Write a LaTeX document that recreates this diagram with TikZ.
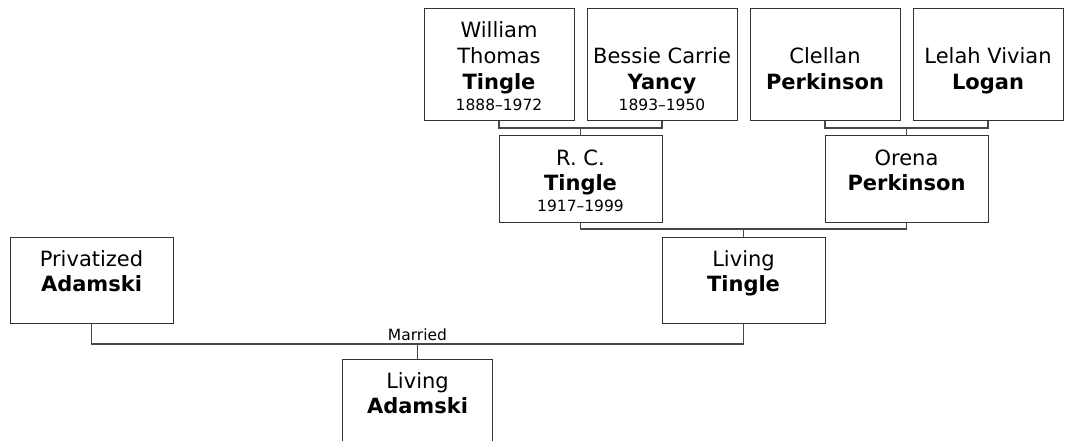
\documentclass[tikz,border=0pt]{standalone}
\usepackage{fontspec}
\setmainfont{DejaVu Sans}
\usetikzlibrary{positioning,calc}

% width, height, first baseline, given names, surname, years
\newcommand{\person}[6]{%
  \parbox[c][#2][t]{#1}{\centering
    \fontsize{21}{25.6}\selectfont
    \rule{0pt}{#3}#4\\
    \textbf{#5}\par
    \fontsize{15.5}{21}\selectfont #6\par}}

\begin{document}
\begin{tikzpicture}[
    x=1pt, y=-1pt,
    card/.style={draw=black!80, line width=1pt, inner sep=0pt, outer sep=0pt, fill=white},
    link/.style={draw=black!72, line width=1.4pt},
    tag/.style={font=\fontsize{15.5}{18}\selectfont, inner sep=0pt}
]
    \useasboundingbox (0,0) rectangle (1066,441);
    \clip (0,0) rectangle (1066,441);

    % Grandparents
    \node[card, anchor=north west] (wt) at (424,9)
        {\person{150pt}{112pt}{29pt}{William\\Thomas}{Tingle}{1888--1972}};
    \node[card, right=13pt of wt] (by)
        {\person{150pt}{112pt}{54.6pt}{Bessie Carrie}{Yancy}{1893--1950}};
    \node[card, right=13pt of by] (cp)
        {\person{150pt}{112pt}{54.6pt}{Clellan}{Perkinson}{}};
    \node[card, right=13pt of cp] (lv)
        {\person{150pt}{112pt}{54.6pt}{Lelah Vivian}{Logan}{}};

    % Parents
    \coordinate (wtby) at ($(wt.south)!0.5!(by.south)+(0,7)$);
    \node[card, below=8pt of wtby] (rc)
        {\person{163pt}{86pt}{29pt}{R. C.}{Tingle}{1917--1999}};
    \coordinate (cplv) at ($(cp.south)!0.5!(lv.south)+(0,7)$);
    \node[card, below=8pt of cplv] (op)
        {\person{163pt}{86pt}{29pt}{Orena}{Perkinson}{}};

    % Couple
    \coordinate (rcop) at ($(rc.south)!0.5!(op.south)+(0,7)$);
    \node[card, below=8pt of rcop] (lt)
        {\person{163pt}{86pt}{29pt}{Living}{Tingle}{}};
    \node[card, left=489pt of lt] (pa)
        {\person{163pt}{86pt}{29pt}{Privatized}{Adamski}{}};

    % Child
    \coordinate (wed) at ($(pa.south)!0.5!(lt.south)+(0,21)$);
    \node[card, below=15pt of wed] (la)
        {\person{150pt}{86pt}{29pt}{Living}{Adamski}{}};

    % Lines
    \draw[link] (wt.south) |- (wtby) -| (by.south);
    \draw[link] (wtby) -- (rc);
    \draw[link] (cp.south) |- (cplv) -| (lv.south);
    \draw[link] (cplv) -- (op);
    \draw[link] (rc.south) |- (rcop) -| (op.south);
    \draw[link] (rcop) -- (lt);
    \draw[link] (pa.south) |- (wed) -| (lt.south);
    \draw[link] (wed) -- (la);
    \node[tag, anchor=base] (married) at ($(wed)+(0,-4)$) {Married};
\end{tikzpicture}
\end{document}
